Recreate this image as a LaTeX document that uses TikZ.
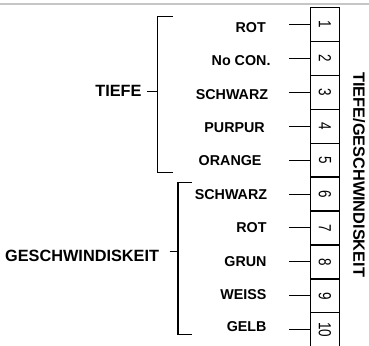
\documentclass[tikz,border=0pt]{standalone}
\usepackage{fontspec}
\setmainfont{Liberation Sans}
\begin{document}
\begin{tikzpicture}[x=1pt,y=-1pt,
  lab/.style={font=\fontsize{14.3}{16}\selectfont\bfseries, inner sep=0pt, anchor=base east},
  big/.style={font=\fontsize{16.3}{18}\selectfont\bfseries, inner sep=0pt, anchor=base east},
  term/.style={draw, line width=1.2pt, minimum width=28.6pt, minimum height=33.95pt, inner sep=0pt,
    font=\fontsize{17.5}{18}\selectfont},
  wire/.style={line width=1pt},
  brack/.style={line width=1.3pt}]
\useasboundingbox (0,0) rectangle (369,345);
\draw[gray!45, line width=1.5pt] (0,3.8) -- (369,3.8);
% terminal block
\foreach \i in {1,...,10} {
  \node[term] (t\i) at (325, {7.3+33.95*(\i-0.5)}) {\rotatebox{-90}{\scalebox{0.77}[1]{\i}}};
  \coordinate (c\i) at (289.3, {7.3+33.95*(\i-0.5)});
  \draw[wire] (c\i) -- (t\i.west);
}
% labels
\node[lab] (l1) at (266,32.7) {ROT};
\node[lab] (l2) at (270.7,65.7) {No CON.};
\node[lab] (l3) at (268.3,99.5) {SCHWARZ};
\node[lab] (l4) at (265,132.7) {PURPUR};
\node[lab] (l5) at (261.7,165.7) {ORANGE};
\node[lab] (l6) at (267.3,199) {SCHWARZ};
\node[lab] (l7) at (266.7,232.7) {ROT};
\node[lab] (l8) at (266.7,266) {GRUN};
\node[lab] (l9) at (266.7,299.3) {WEISS};
\node[lab] (l10) at (266.7,331.7) {GELB};
% group labels and brackets
\node[big] (g1) at (141.7,96) {TIEFE};
\node[big] (g2) at (159.3,261) {GESCHWINDISKEIT};
\coordinate (b1t) at (173,16.7);
\coordinate (b1b) at (173,172.7);
\coordinate (b1m) at (157.7,91.5);
\draw[brack] (b1t) -| (157.7,172.7) -- (b1b);
\draw[wire] (147.3,91.5) -- (b1m);
\coordinate (b2t) at (191.7,182.7);
\coordinate (b2b) at (191.7,334.5);
\coordinate (b2m) at (178,251.5);
\draw[brack] (b2t) -| (178,334.5) -- (b2b);
\draw[wire] (169.5,251.5) -- (b2m);
% vertical title
\node[font=\fontsize{16.3}{18}\selectfont\bfseries, inner sep=0pt, rotate=-90] (title) at (359,174.7) {TIEFE/GESCHWINDISKEIT};
\end{tikzpicture}
\end{document}
